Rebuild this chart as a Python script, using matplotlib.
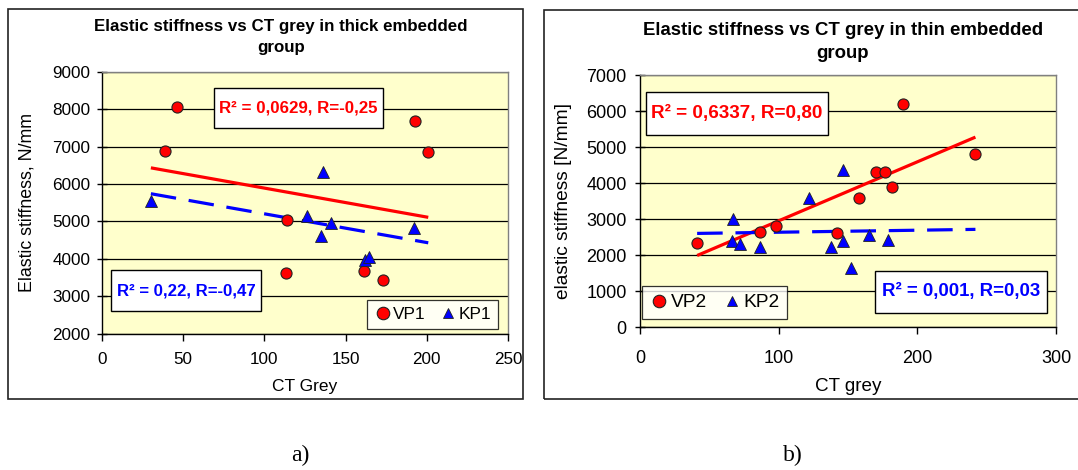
import numpy as np
import matplotlib
matplotlib.use("Agg")
import matplotlib.pyplot as plt
from matplotlib.lines import Line2D
from matplotlib.patches import Rectangle

# ---------------- data ----------------
# Panel a: thick embedded group
vp1_x = [39.0, 45.9, 193.0, 200.9, 114.0, 113.4, 161.4, 173.3]
vp1_y = [6880, 8070, 7700, 6850, 5030, 3620, 3680, 3440]
kp1_x = [30.1, 136.2, 126.1, 134.6, 141.0, 161.7, 164.4, 192.2]
kp1_y = [5550, 6330, 5140, 4620, 4950, 3980, 4040, 4820]

# Panel b: thin embedded group
vp2_x = [41.2, 86.7, 97.8, 142.0, 157.7, 169.9, 176.8, 181.8, 190.0, 241.9]
vp2_y = [2340, 2650, 2800, 2620, 3600, 4300, 4300, 3880, 6200, 4800]
kp2_x = [66.8, 66.3, 72.3, 86.7, 121.7, 146.3, 137.8, 146.3, 152.0, 165.4, 178.5]
kp2_y = [3000, 2400, 2300, 2220, 3600, 4360, 2220, 2400, 1650, 2570, 2430]

title_a = "Elastic stiffness vs CT grey in thick embedded\ngroup"
title_b = "Elastic stiffness vs CT grey in thin embedded\ngroup"
ylabel_a = "Elastic stiffness, N/mm"
ylabel_b = "elastic stiffness [N/mm]"
xlabel_a = "CT Grey"
xlabel_b = "CT grey"
r_text_vp1 = "R² = 0,0629, R=-0,25"
r_text_kp1 = "R² = 0,22, R=-0,47"
r_text_vp2 = "R² = 0,6337, R=0,80"
r_text_kp2 = "R² = 0,001, R=0,03"

xticks_a = [0, 50, 100, 150, 200, 250]
yticks_a = [2000, 3000, 4000, 5000, 6000, 7000, 8000, 9000]
xticks_b = [0, 100, 200, 300]
yticks_b = [0, 1000, 2000, 3000, 4000, 5000, 6000, 7000]

# ---------------- style ----------------
plt.rcParams['font.family'] = ['Liberation Sans', 'DejaVu Sans']
W, H = 1078, 470
fig = plt.figure(figsize=(W / 100, H / 100), dpi=100)
fig.patch.set_facecolor('white')

RED = '#FF0000'
BLUE = '#0000FF'
BG = '#FFFFCC'


def fx(px):
    return px / W


def fy(py):
    return 1 - py / H


# panel frames
fig.patches.append(Rectangle((fx(8), fy(399)), fx(523) - fx(8), fy(9) - fy(399),
                             transform=fig.transFigure, fill=False,
                             ec='#222222', lw=1.2, zorder=0))
fig.patches.append(Rectangle((fx(544), fy(399)), fx(1090) - fx(544), fy(10) - fy(399),
                             transform=fig.transFigure, fill=False,
                             ec='#222222', lw=1.2, zorder=0))


def setup_axes(ax, xlim, ylim, xticks, yticks, fs, ypad, xpad):
    ax.set_facecolor(BG)
    ax.set_xlim(*xlim)
    ax.set_ylim(*ylim)
    ax.set_xticks(xticks)
    ax.set_yticks(yticks)
    ax.yaxis.grid(True, color='black', lw=0.9)
    ax.set_axisbelow(True)
    for s in ['top', 'right']:
        ax.spines[s].set_color('#808080')
        ax.spines[s].set_linewidth(1.0)
    for s in ['left', 'bottom']:
        ax.spines[s].set_color('black')
        ax.spines[s].set_linewidth(1.0)
    ax.tick_params(axis='y', direction='inout', length=7, width=1,
                   labelsize=fs, pad=ypad)
    ax.tick_params(axis='x', direction='out', length=5, width=1,
                   labelsize=fs, pad=xpad)


def scatter_and_fit(ax, vx, vy, kx, ky):
    vx = np.asarray(vx); vy = np.asarray(vy)
    kx = np.asarray(kx); ky = np.asarray(ky)
    xmin = min(vx.min(), kx.min())
    xmax = max(vx.max(), kx.max())
    xs = np.array([xmin, xmax])
    pv = np.polyfit(vx, vy, 1)
    pk = np.polyfit(kx, ky, 1)
    ax.plot(xs, np.polyval(pv, xs), color=RED, lw=2.3, zorder=3,
            solid_capstyle='butt')
    ax.plot(xs, np.polyval(pk, xs), color=BLUE, lw=2.3, zorder=3,
            dashes=(8, 4), dash_capstyle='butt')
    ax.plot(vx, vy, 'o', color=RED, mec='#222222', mew=0.8, ms=8, zorder=4,
            ls='none')
    ax.plot(kx, ky, '^', color=BLUE, mec='#222222', mew=0.6, ms=8, zorder=4,
            ls='none')


def rbox(ax, x0, x1, y0, y1, s, color, fs):
    ax.add_patch(Rectangle((x0, y0), x1 - x0, y1 - y0, fc='white',
                           ec='black', lw=1.0, zorder=6))
    ax.text((x0 + x1) / 2, (y0 + y1) / 2, s, color=color, fontsize=fs,
            fontweight='bold', ha='center', va='center', zorder=7)


def legend(ax, labels, loc, anchor, fs):
    h = [Line2D([], [], marker='o', color=RED, mec='#222222', mew=0.8,
                ms=9, ls='none'),
         Line2D([], [], marker='^', color=BLUE, mec='#222222', mew=0.6,
                ms=7.5, ls='none')]
    lg = ax.legend(h, labels, loc=loc, bbox_to_anchor=anchor, ncol=2,
                   fontsize=fs, frameon=True, fancybox=False,
                   handletextpad=0.1, columnspacing=0.8, handlelength=1.0,
                   borderpad=0.4, borderaxespad=0.0)
    lg.get_frame().set_edgecolor('black')
    lg.get_frame().set_linewidth(0.9)
    lg.set_zorder(8)


# ---------------- panel a ----------------
axa = fig.add_axes([fx(102), fy(333.5), fx(508) - fx(102), fy(72) - fy(333.5)])
setup_axes(axa, (0, 250), (2000, 9000), xticks_a, yticks_a, 12.3, 5, 8)
scatter_and_fit(axa, vp1_x, vp1_y, kp1_x, kp1_y)
rbox(axa, 69.1, 173.1, 7507, 8573, r_text_vp1, RED, 12.2)
rbox(axa, 5.6, 98.0, 2596, 3690, r_text_kp1, BLUE, 12.1)
legend(axa, ['VP1', 'KP1'], 'lower right', (0.975, 0.017), 12.4)
axa.set_ylabel(ylabel_a, fontsize=12.8, labelpad=12)
axa.set_xlabel(xlabel_a, fontsize=12.5, labelpad=9)
fig.text(fx(281), fy(37), title_a, ha='center', va='center',
         fontsize=12.2, fontweight='bold', linespacing=1.5)

# ---------------- panel b ----------------
axb = fig.add_axes([fx(640), fy(327.3), fx(1056) - fx(640), fy(75) - fy(327.3)])
setup_axes(axb, (0, 300), (0, 7000), xticks_b, yticks_b, 13, 6, 11)
scatter_and_fit(axb, vp2_x, vp2_y, kp2_x, kp2_y)
rbox(axb, 4.3, 135.8, 5336, 6533, r_text_vp2, RED, 13.6)
rbox(axb, 169.7, 293.7, 401, 1562, r_text_kp2, BLUE, 13.4)
legend(axb, ['VP2', 'KP2'], 'lower left', (0.005, 0.033), 13.8)
axb.set_ylabel(ylabel_b, fontsize=13.8, labelpad=10)
axb.set_xlabel(xlabel_b, fontsize=13.6, labelpad=8)
fig.text(fx(843), fy(42), title_b, ha='center', va='center',
         fontsize=13.4, fontweight='bold', linespacing=1.45)

# captions
fig.text(fx(300), fy(455), "a)", ha='center', va='center', fontsize=17,
         family=['Liberation Serif', 'DejaVu Serif'])
fig.text(fx(793), fy(455), "b)", ha='center', va='center', fontsize=17,
         family=['Liberation Serif', 'DejaVu Serif'])

fig.savefig("out.png", dpi=100, facecolor='white')
